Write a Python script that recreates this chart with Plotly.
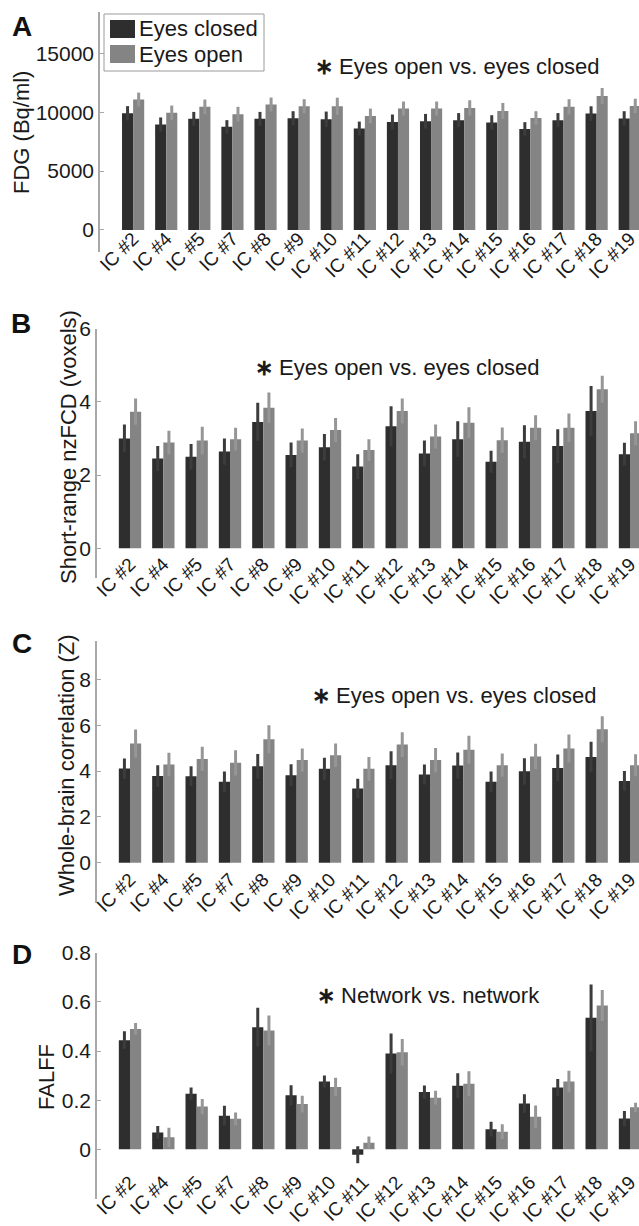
import plotly.graph_objects as go

W, H = 639, 1226
FONT = "Liberation Sans, Arial, sans-serif"
TEXT = "#1a1a1a"
DARK, GRAY = "#2e2e2e", "#848484"
DARK_ERR, GRAY_ERR = "#3c3c3c", "#969696"
AXIS = "#a8a8a8"

components = ["IC #2", "IC #4", "IC #5", "IC #7", "IC #8", "IC #9", "IC #10", "IC #11",
              "IC #12", "IC #13", "IC #14", "IC #15", "IC #16", "IC #17", "IC #18", "IC #19"]

# A: FDG uptake
fdg_closed = [9900, 8950, 9430, 8750, 9430, 9490, 9400, 8610, 9170, 9230, 9320, 9120, 8580, 9320, 9880, 9460]
fdg_closed_err = [610, 600, 590, 570, 590, 590, 650, 590, 630, 620, 600, 620, 570, 600, 620, 620]
fdg_open = [11070, 9940, 10450, 9830, 10650, 10500, 10500, 9680, 10300, 10300, 10360, 10100, 9510, 10450, 11380, 10530]
fdg_open_err = [590, 620, 620, 620, 590, 600, 730, 620, 600, 600, 650, 680, 570, 650, 670, 610]

# B: short-range nzFCD
fcd_closed = [3.00, 2.45, 2.50, 2.64, 3.45, 2.55, 2.76, 2.23, 3.33, 2.59, 2.98, 2.36, 2.91, 2.79, 3.75, 2.57]
fcd_closed_err = [0.38, 0.34, 0.35, 0.36, 0.52, 0.34, 0.36, 0.34, 0.55, 0.35, 0.49, 0.30, 0.45, 0.46, 0.68, 0.31]
fcd_open = [3.73, 2.89, 2.94, 2.98, 3.84, 2.94, 3.23, 2.68, 3.75, 3.05, 3.43, 2.95, 3.29, 3.29, 4.34, 3.14]
fcd_open_err = [0.36, 0.32, 0.38, 0.31, 0.41, 0.33, 0.33, 0.30, 0.34, 0.33, 0.42, 0.35, 0.34, 0.39, 0.37, 0.33]

# C: whole-brain correlation
wbc_closed = [4.11, 3.79, 3.78, 3.53, 4.21, 3.82, 4.10, 3.24, 4.26, 3.85, 4.24, 3.54, 3.99, 4.14, 4.62, 3.57]
wbc_closed_err = [0.44, 0.47, 0.43, 0.45, 0.54, 0.48, 0.48, 0.43, 0.61, 0.44, 0.57, 0.44, 0.57, 0.58, 0.66, 0.43]
wbc_open = [5.20, 4.29, 4.53, 4.36, 5.39, 4.48, 4.69, 4.10, 5.16, 4.48, 4.93, 4.26, 4.64, 4.99, 5.83, 4.26]
wbc_open_err = [0.62, 0.51, 0.53, 0.55, 0.61, 0.51, 0.51, 0.52, 0.54, 0.53, 0.61, 0.51, 0.55, 0.61, 0.57, 0.48]

# D: FALFF
falff_closed = [0.444, 0.069, 0.226, 0.137, 0.497, 0.220, 0.276, -0.022, 0.390, 0.233, 0.259, 0.082, 0.186, 0.252, 0.535, 0.125]
falff_closed_err = [0.036, 0.026, 0.026, 0.040, 0.079, 0.041, 0.024, 0.035, 0.081, 0.027, 0.051, 0.030, 0.038, 0.034, 0.136, 0.031]
falff_open = [0.490, 0.049, 0.174, 0.124, 0.483, 0.184, 0.254, 0.027, 0.395, 0.210, 0.267, 0.072, 0.133, 0.276, 0.585, 0.171]
falff_open_err = [0.024, 0.039, 0.031, 0.026, 0.061, 0.034, 0.037, 0.025, 0.054, 0.028, 0.051, 0.030, 0.045, 0.044, 0.063, 0.019]

series_names = ["Eyes closed", "Eyes open"]

panels = [
    dict(letter="A", ytitle="FDG (Bq/ml)", note="Eyes open vs. eyes closed",
         closed=(fdg_closed, fdg_closed_err), opened=(fdg_open, fdg_open_err),
         yrange=[-1870, 18500], yticks=[0, 5000, 10000, 15000],
         ytext=["0", "5000", "10000", "15000"],
         top=12, bottom=252, left=100, xrange=[-1.0, 15.28], standoff=-29,
         letter_xy=(22, 26), title_xy=(22, 133), note_xy=(313, 67)),
    dict(letter="B", ytitle="Short-range nzFCD (voxels)", note="Eyes open vs. eyes closed",
         closed=(fcd_closed, fcd_closed_err), opened=(fcd_open, fcd_open_err),
         yrange=[-0.8, 6], yticks=[0, 2, 4, 6], ytext=["0", "2", "4", "6"],
         top=328.5, bottom=577.6, left=97, xrange=[-0.99, 15.27], standoff=-29,
         letter_xy=(21, 323), title_xy=(68, 447), note_xy=(253, 367)),
    dict(letter="C", ytitle="Whole-brain correlation (Z)", note="Eyes open vs. eyes closed",
         closed=(wbc_closed, wbc_closed_err), opened=(wbc_open, wbc_open_err),
         yrange=[-1.75, 9.68], yticks=[0, 2, 4, 6, 8], ytext=["0", "2", "4", "6", "8"],
         top=641, bottom=902.8, left=97, xrange=[-0.99, 15.27], standoff=-39,
         letter_xy=(22, 643), title_xy=(66, 765), note_xy=(310, 695)),
    dict(letter="D", ytitle="FALFF", note="Network vs. network",
         closed=(falff_closed, falff_closed_err), opened=(falff_open, falff_open_err),
         yrange=[-0.2, 0.8], yticks=[0, 0.2, 0.4, 0.6, 0.8],
         ytext=["0", "0.2", "0.4", "0.6", "0.8"],
         top=952.7, bottom=1198.5, left=97, xrange=[-0.99, 15.27], standoff=-32,
         letter_xy=(22, 954), title_xy=(46, 1077), note_xy=(315, 995)),
]


def px_x(x):
    return x / W


def px_y(y):
    return 1 - y / H


fig = go.Figure()
annotations = []
shapes = []
layout_axes = {}

for i, p in enumerate(panels):
    n = "" if i == 0 else str(i + 1)
    xref, yref = "x" + n, "y" + n
    for label, (vals, errs), color, ecolor in (
        (series_names[0], p["closed"], DARK, DARK_ERR),
        (series_names[1], p["opened"], GRAY, GRAY_ERR),
    ):
        fig.add_trace(go.Bar(
            x=components, y=vals, name=label, xaxis=xref, yaxis=yref,
            marker=dict(color=color, line=dict(width=0)),
            error_y=dict(type="data", array=errs, visible=True,
                         color=ecolor, thickness=3, width=0),
            showlegend=False,
        ))

    layout_axes["xaxis" + n] = dict(
        domain=[px_x(p["left"]), 1.0], range=p["xrange"], anchor=yref,
        showline=False, showgrid=False, zeroline=False, ticks="",
        tickangle=-45, ticklabelstandoff=p["standoff"], automargin=False,
        tickfont=dict(family=FONT, size=19, color=TEXT),
        fixedrange=True,
    )
    layout_axes["yaxis" + n] = dict(
        domain=[px_y(p["bottom"]), px_y(p["top"])], range=p["yrange"],
        anchor=xref, showline=True, linecolor=AXIS, linewidth=1.5,
        showgrid=False, zeroline=False, ticks="inside", ticklen=4,
        tickcolor=AXIS, tickwidth=1.2, automargin=False,
        tickvals=p["yticks"], ticktext=p["ytext"],
        tickfont=dict(family=FONT, size=21, color=TEXT),
        fixedrange=True,
    )

    lx, ly = p["letter_xy"]
    annotations.append(dict(
        text="<b>%s</b>" % p["letter"], xref="paper", yref="paper",
        x=px_x(lx), y=px_y(ly), xanchor="center", yanchor="middle",
        showarrow=False, font=dict(family=FONT, size=28, color="#111111"),
    ))
    tx, ty = p["title_xy"]
    annotations.append(dict(
        text=p["ytitle"], xref="paper", yref="paper", textangle=-90,
        x=px_x(tx), y=px_y(ty), xanchor="center", yanchor="middle",
        showarrow=False, font=dict(family=FONT, size=22, color=TEXT),
    ))
    nx, ny = p["note_xy"]
    annotations.append(dict(
        text="<b>\u2217</b> " + p["note"], xref="paper", yref="paper",
        x=px_x(nx), y=px_y(ny), xanchor="left", yanchor="middle",
        showarrow=False, font=dict(family=FONT, size=22, color=TEXT),
    ))

# Legend box for panel A: frame, colour swatches and labels
shapes.append(dict(type="rect", xref="paper", yref="paper",
                   x0=px_x(104), x1=px_x(264), y0=px_y(71), y1=px_y(14),
                   line=dict(color="#9a9a9a", width=1), fillcolor="white", layer="above"))
for k, (name, color, top) in enumerate(zip(series_names, [DARK, GRAY], [20, 45])):
    shapes.append(dict(type="rect", xref="paper", yref="paper",
                       x0=px_x(110), x1=px_x(135), y0=px_y(top + 18), y1=px_y(top),
                       line=dict(width=0), fillcolor=color, layer="above"))
    annotations.append(dict(
        text=name, xref="paper", yref="paper",
        x=px_x(137), y=px_y(top + 9), xanchor="left", yanchor="middle",
        showarrow=False, font=dict(family=FONT, size=22, color=TEXT),
    ))

fig.update_layout(
    width=W, height=H,
    margin=dict(l=0, r=0, t=0, b=0, pad=0, autoexpand=False),
    paper_bgcolor="white", plot_bgcolor="white",
    barmode="group", bargap=0.33, bargroupgap=0.0,
    font=dict(family=FONT, size=21, color=TEXT),
    showlegend=False,
    annotations=annotations,
    shapes=shapes,
    **layout_axes,
)

fig.write_html("out.html")
